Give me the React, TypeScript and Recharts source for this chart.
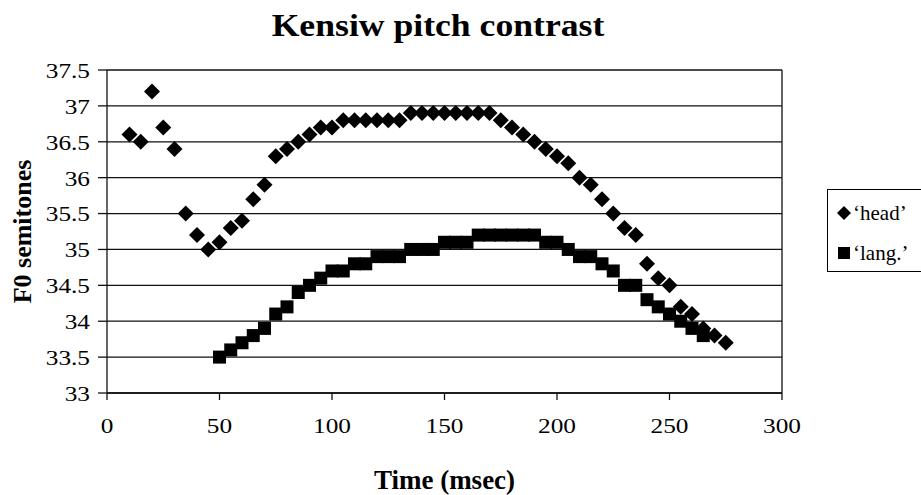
import React from 'react';
import { ScatterChart, Scatter, XAxis, YAxis, CartesianGrid, ReferenceLine, Legend, Label } from 'recharts';

// Time (msec) and F0 (semitones)
const headTime = [10, 15, 20, 25, 30, 35, 40, 45, 50, 55, 60, 65, 70, 75, 80, 85, 90, 95, 100,
    105, 110, 115, 120, 125, 130, 135, 140, 145, 150, 155, 160, 165, 170,
    175, 180, 185, 190, 195, 200, 205, 210, 215, 220, 225, 230, 235, 240, 245, 250, 255, 260, 265, 270, 275];
const headF0 = [36.6, 36.5, 37.2, 36.7, 36.4, 35.5, 35.2, 35.0, 35.1, 35.3, 35.4, 35.7, 35.9, 36.3, 36.4, 36.5, 36.6, 36.7, 36.7,
    36.8, 36.8, 36.8, 36.8, 36.8, 36.8, 36.9, 36.9, 36.9, 36.9, 36.9, 36.9, 36.9, 36.9,
    36.8, 36.7, 36.6, 36.5, 36.4, 36.3, 36.2, 36.0, 35.9, 35.7, 35.5, 35.3, 35.2, 34.8, 34.6, 34.5, 34.2, 34.1, 33.9, 33.8, 33.7];

const langTime = [50, 55, 60, 65, 70, 75, 80, 85, 90, 95, 100, 105, 110, 115, 120, 125, 130, 135, 140, 145,
    150, 155, 160, 165, 170, 175, 180, 185, 190, 195, 200, 205, 210, 215, 220, 225, 230, 235, 240, 245,
    250, 255, 260, 265];
const langF0 = [33.5, 33.6, 33.7, 33.8, 33.9, 34.1, 34.2, 34.4, 34.5, 34.6, 34.7, 34.7, 34.8, 34.8, 34.9, 34.9, 34.9, 35.0, 35.0, 35.0,
    35.1, 35.1, 35.1, 35.2, 35.2, 35.2, 35.2, 35.2, 35.2, 35.1, 35.1, 35.0, 34.9, 34.9, 34.8, 34.7, 34.5, 34.5, 34.3, 34.2,
    34.1, 34.0, 33.9, 33.8];

const xTicks = [0, 50, 100, 150, 200, 250, 300];
const yTicks = [33, 33.5, 34, 34.5, 35, 35.5, 36, 36.5, 37, 37.5];

const headData = headTime.map((t, i) => ({ x: t, y: headF0[i] }));
const langData = langTime.map((t, i) => ({ x: t, y: langF0[i] }));

const FONT = "'Liberation Serif', 'Times New Roman', serif";

const Diamond = (props: any) => {
    const { cx, cy } = props;
    const r = 8;
    return <polygon points={`${cx},${cy - r} ${cx + r},${cy} ${cx},${cy + r} ${cx - r},${cy}`} fill="#000" />;
};

const Square = (props: any) => {
    const { cx, cy } = props;
    return <rect x={cx - 6.5} y={cy - 6.5} width={13} height={13} fill="#000" />;
};

const renderXTick = (props: any) => {
    const { x, y, payload } = props;
    return (
        <g transform={`translate(${x},${y})`}>
            <text transform="scale(1.15,1)" textAnchor="middle" dy="0.71em" fontFamily="Liberation Serif"
                style={{ fontSize: 22, fontFamily: FONT, fill: '#000' }}>
                {payload.value}
            </text>
        </g>
    );
};

const renderYTick = (props: any) => {
    const { x, y, payload } = props;
    return (
        <g transform={`translate(${x},${y})`}>
            <text transform="scale(1.15,1)" textAnchor="end" dy="0.36em" fontFamily="Liberation Serif"
                style={{ fontSize: 22, fontFamily: FONT, fill: '#000' }}>
                {payload.value}
            </text>
        </g>
    );
};

const YTitle = (props: any) => {
    const vb = props.viewBox || { y: 70, height: 323 };
    const cy = vb.y + vb.height / 2;
    return (
        <text x={31} y={cy} transform={`rotate(-90, 31, ${cy})`} textAnchor="middle"
            style={{ fontSize: 26, fontWeight: 'bold', fontFamily: FONT, fill: '#000' }}>
            F0 semitones
        </text>
    );
};

const renderLegend = () => (
    <div style={{ position: 'relative', width: 110, height: 83, border: '1.5px solid #000', boxSizing: 'border-box', fontFamily: FONT, fontSize: 21, background: '#fff' }}>
        <div style={{ position: 'absolute', left: 8, top: 10, display: 'flex', alignItems: 'center', lineHeight: '26px' }}>
            <svg width={16} height={16}><polygon points="8,1 15,8 8,15 1,8" fill="#000" /></svg>
            <span style={{ marginLeft: 1 }}>‘head’</span>
        </div>
        <div style={{ position: 'absolute', left: 8, top: 50, display: 'flex', alignItems: 'center', lineHeight: '26px' }}>
            <svg width={16} height={16}><rect x={2} y={2} width={12} height={12} fill="#000" /></svg>
            <span style={{ marginLeft: 1 }}>‘lang.’</span>
        </div>
    </div>
);

export default function App() {
    return (
        <div style={{ position: 'relative', width: 921, height: 495, overflow: 'hidden', background: '#fff', fontFamily: FONT }}>
            <style>{'body { margin: 0; }'}</style>
            <div style={{ position: 'absolute', left: 0, width: 876, top: 9, textAlign: 'center', fontFamily: FONT, fontWeight: 'bold', fontSize: 31, lineHeight: '34px', transform: 'scaleX(1.15)', transformOrigin: '438px 0' }}>
                Kensiw pitch contrast
            </div>
            <ScatterChart width={921} height={495} margin={{ top: 70, right: 139, bottom: 0, left: 0 }}>
                <CartesianGrid vertical={false} stroke="#111" strokeWidth={1.3} />
                <XAxis type="number" dataKey="x" domain={[0, 300]} ticks={xTicks} interval={0} height={102}
                    tickSize={7} tickMargin={17} tick={renderXTick} stroke="#111" strokeWidth={1.3}>
                    <Label position="insideBottom" offset={6} value="Time (msec)" fontSize={27} fontWeight="bold"
                        fontFamily={FONT} fill="#000" />
                </XAxis>
                <YAxis type="number" dataKey="y" domain={[33, 37.5]} ticks={yTicks} interval={0} width={107}
                    tickSize={9} tickMargin={8} tick={renderYTick} stroke="#111" strokeWidth={1.3}>
                    <Label content={<YTitle />} />
                </YAxis>
                <ReferenceLine x={300} stroke="#111" strokeWidth={1.3} />
                <Legend layout="vertical" align="center" verticalAlign="middle" content={renderLegend}
                    wrapperStyle={{ left: 827, top: 189, width: 110, height: 83 }} />
                <Scatter name="‘head’" data={headData} fill="#000" shape={Diamond} isAnimationActive={false} />
                <Scatter name="‘lang.’" data={langData} fill="#000" shape={Square} isAnimationActive={false} />
            </ScatterChart>
        </div>
    );
}
